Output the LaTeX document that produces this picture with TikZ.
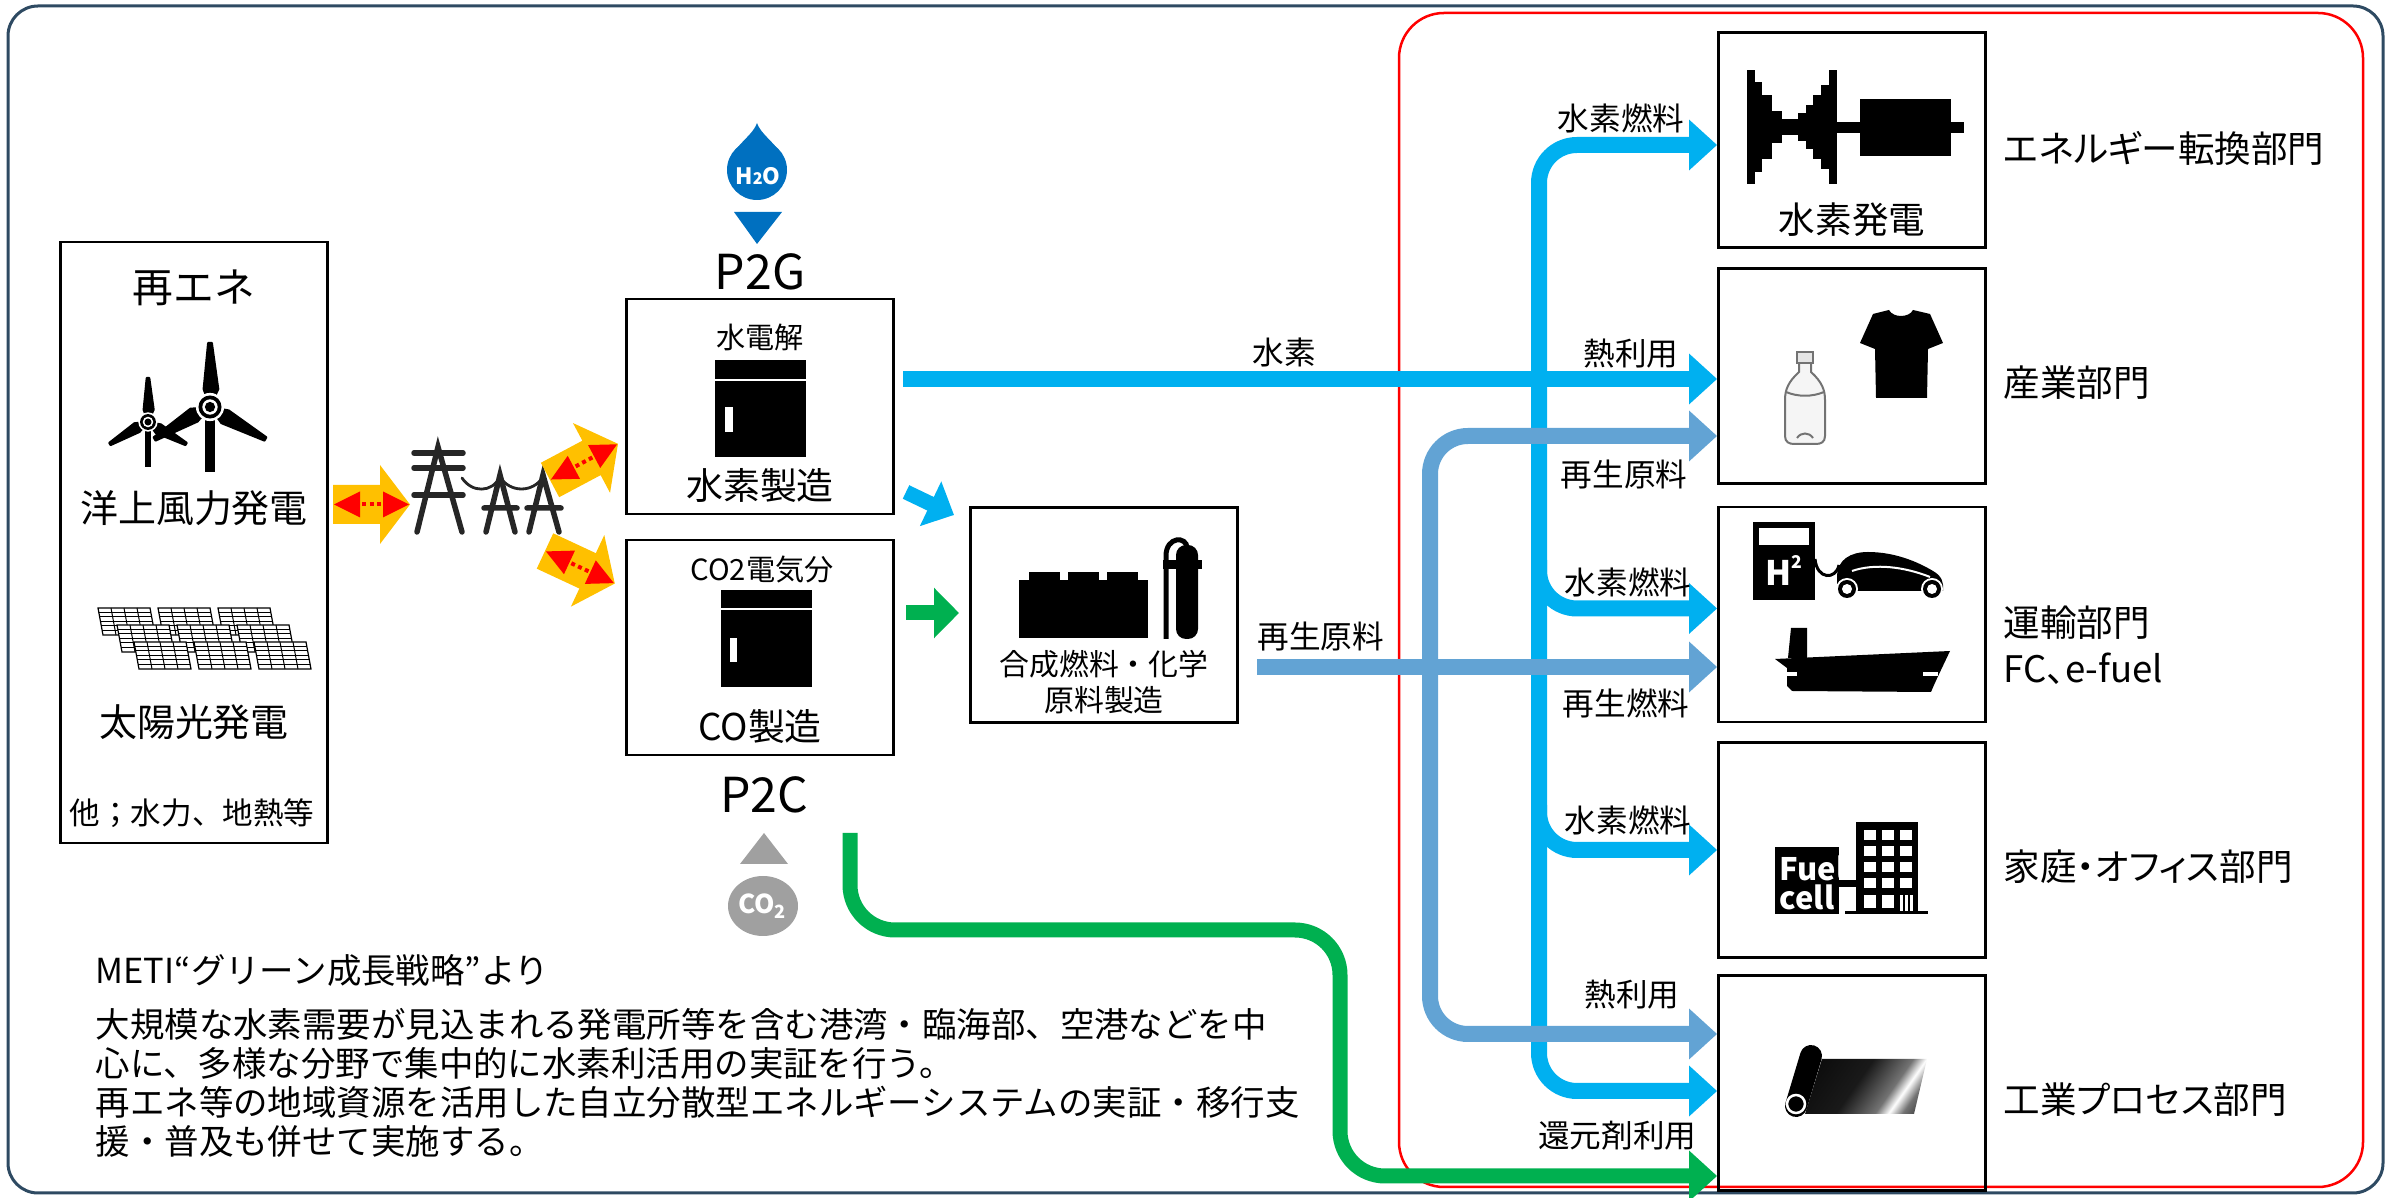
\documentclass[tikz,border=0pt]{standalone}
\usepackage{fontspec}
\setmainfont{Noto Sans CJK JP}
\newfontfamily\uifont{Noto Sans CJK JP}[RawFeature=+palt]
\usetikzlibrary{arrows.meta}

\definecolor{hcyan}{HTML}{00B0F0}
\definecolor{rblue}{HTML}{62A3D4}
\definecolor{cgreen}{HTML}{00B050}
\definecolor{wblue}{HTML}{0070C0}
\definecolor{eyellow}{HTML}{FFC000}
\definecolor{cgray}{HTML}{A0A0A0}
\definecolor{frameblue}{HTML}{2E4A62}
\definecolor{pylon}{HTML}{262626}

\newcommand{\jfs}[1]{\fontsize{#1}{#1}\selectfont}

\pgfdeclarehorizontalshading{sheetshade}{100bp}{color(0bp)=(black); color(45bp)=(black!90); color(62bp)=(black!55); color(68bp)=(white); color(74bp)=(black!55); color(86bp)=(black!90); color(100bp)=(black)}

% wind turbine: hub x, hub y, blade length, mast length
\newcommand{\turbine}[4]{%
  \begin{scope}[shift={(#1,#2)}]
    \fill (-0.075*#3,0) rectangle (0.075*#3,#4);
    \foreach \a in {90,210,330}
      \filldraw[rotate=\a, line join=round, line width=0.2mm] (0,0) -- (0.28*#3,0.13*#3) -- (#3,0.03*#3) -- (#3,-0.03*#3) -- (0.28*#3,-0.1*#3) -- cycle;
    \fill[white] (0,0) circle[radius=0.22*#3];
    \fill (0,0) circle[radius=0.18*#3];
    \fill[white] (0,0) circle[radius=0.12*#3];
    \fill (0,0) circle[radius=0.08*#3];
  \end{scope}}

% yellow two-way link arrow: tail x, tail y, angle
\newcommand{\linkarrow}[3]{%
  \begin{scope}[shift={(#1,#2)}, rotate=#3]
    \fill[eyellow] (0,-19.5) -- (47,-19.5) -- (47,-39.5) -- (77,0) -- (47,39.5) -- (47,19.5) -- (0,19.5) -- cycle;
    \fill[red] (1,0) -- (27,-13) -- (27,13) -- cycle (76,0) -- (50,-13) -- (50,13) -- cycle;
    \draw[red, line width=0.4mm, dash pattern=on 0.4mm off 0.35mm] (29,0) -- (49,0);
  \end{scope}}

\tikzset{
  pbox/.style={draw, line width=0.28mm, minimum width=26.7mm, minimum height=21.5mm, inner sep=0pt},
  flowlbl/.style={font=\jfs{9}, inner sep=0pt},
  seclbl/.style={anchor=west, font=\uifont\jfs{10.4}, inner sep=0pt},
  hflow/.style={hcyan, line width=1.6mm, rounded corners=3.8mm},
  rflow/.style={rblue, line width=1.6mm, rounded corners=3.8mm},
  gflow/.style={cgreen, line width=1.5mm, rounded corners=4.5mm},
}

\begin{document}
\begin{tikzpicture}[x=0.1mm, y=-0.1mm, >={Triangle[length=2.8mm,width=4.9mm]}]
\useasboundingbox (0,0) rectangle (2399,1198);

% frames
\draw[frameblue, line width=0.3mm, rounded corners=3mm] (8,6) rectangle (2383,1193);
\draw[red, line width=0.25mm, rounded corners=4.5mm] (1399,13) rectangle (2363,1187);

% renewables
\node[pbox, minimum height=60.1mm] (ren) at (194,542.5) {};
\node[font=\jfs{11.6}] (rentitle) at (194,288) {再エネ};
\turbine{148}{422}{44}{45}
\turbine{210}{407}{64}{65}
\node[font=\jfs{10.8}] (wind) at (194,508) {洋上風力発電};
\foreach \r/\dx in {0/0,1/19,2/36}
  \foreach \c in {0,1,2} {
    \begin{scope}[shift={(98+\dx+60*\c,608+17*\r)}]
      \filldraw[fill=white, line width=0.12mm] (0,0) -- (52,0) -- (57,27) -- (5,27) -- cycle;
      \foreach \i in {1,2,3} \draw[line width=0.1mm] (13*\i,0) -- (13*\i+5,27);
      \foreach \j in {1,...,5} \draw[line width=0.1mm] (0.83*\j,4.5*\j) -- (52+0.83*\j,4.5*\j);
    \end{scope}
  }
\node[font=\jfs{10.8}] (solar) at (194,722) {太陽光発電};
\node[font=\jfs{8.7}] (other) at (192,813) {他；水力、地熱等};

% grid
\linkarrow{333}{504.5}{0}
\begin{scope}[color=pylon, line width=0.55mm, line cap=round]
  \draw (417,532) -- (438,447) -- (462,532);
  \foreach \y in {453,468,495} \draw (414,\y) -- (463,\y);
  \draw (486,532) -- (500,475) -- (515,532) (484,508) -- (517,508);
  \draw (529,532) -- (543,475) -- (559,532) (527,508) -- (561,508);
  \draw[line width=0.28mm] (462,478) .. controls (472,493) and (492,493) .. (500,477) .. controls (510,493) and (533,493) .. (543,477);
\end{scope}
\linkarrow{550}{480}{28}
\linkarrow{545}{551}{-25}

% water in, P2G
\fill[wblue] (757,123) .. controls (752,138) and (728,148) .. (727,172) -- (787,172) .. controls (786,148) and (762,138) .. (757,123) -- cycle;
\fill[wblue] (757,170) circle[radius=30];
\node[text=white, font=\bfseries\jfs{6.4}] (h2o) at (758,176) {H{\jfs{4.6}2}O};
\fill[wblue] (734,212) -- (782,212) -- (757,244) -- cycle;
\node[anchor=base, font=\jfs{13.7}] (p2glbl) at (760,290) {P2G};

\node[pbox] (p2g) at (760,406.5) {};
\node[font=\jfs{8.3}] (elec) at (760,337) {水電解};
\fill (715,360) rectangle (806,457);
\draw[white, line width=0.2mm] (715,380) -- (806,380);
\fill[white] (725,407) rectangle (733,432);
\node[font=\jfs{10.5}] (hprod) at (760,486) {水素製造};

\node[pbox] (co) at (760,647.5) {};
\node[font=\jfs{8.3}] (coelec) at (762,570) {CO2電気分};
\fill (721,590) rectangle (812,687);
\draw[white, line width=0.2mm] (721,609) -- (812,609);
\fill[white] (730,638) rectangle (737,662);
\node[font=\jfs{10.5}] (coprod) at (760,727) {CO製造};

% CO2 in, P2C
\node[anchor=base, font=\jfs{13.7}] (p2clbl) at (764,813) {P2C};
\fill[cgray] (740,864) -- (788,864) -- (764,833) -- cycle;
\fill[cgray] (763,906) ellipse[x radius=35, y radius=30];
\node[text=white, font=\bfseries\jfs{7.4}] (co2) at (763,906) {CO\textsubscript{2}};

% synthesis
\coordinate (hs) at (906,492);
\coordinate (he) at (954,515);
\draw[hcyan, line width=1.5mm, -{Triangle[length=2.6mm,width=4.8mm]}] (hs) -- (he);
\coordinate (gs) at (906,613);
\coordinate (ge) at (959,613);
\draw[cgreen, line width=1.5mm, -{Triangle[length=2.5mm,width=4.9mm]}] (gs) -- (ge);
\node[pbox] (syn) at (1104,615) {};
\fill (1019,580) rectangle (1148,638);
\foreach \x in {1029,1068,1107} \fill (\x,572) rectangle ++(31,9);
\fill[rounded corners=1mm] (1176,545) rectangle (1198,639);
\draw[line width=0.5mm] (1166,639) -- (1166,556) .. controls (1166,536) and (1187,536) .. (1187,548);
\fill (1163,560) rectangle (1202,569);
\node[font=\fontsize{8.5}{10.2}\selectfont, align=center] (synlbl) at (1104,682) {合成燃料・化学\\原料製造};

% sectors
\node[pbox] (ene) at (1852,140) {};
\node[pbox] (ind) at (1852,376) {};
\node[pbox] (tra) at (1852,614.5) {};
\node[pbox] (hom) at (1852,850) {};
\node[pbox] (pro) at (1852,1083) {};

% turbine and generator
\foreach \xa/\xb/\h in {1747/1755/57, 1755/1762/45, 1762/1772/32, 1772/1782/16, 1782/1798/8, 1798/1806/14, 1806/1813/22, 1813/1821/32, 1821/1829/42, 1829/1837/57}
  \fill (\xa,127-\h) rectangle (\xb,127+\h);
\fill (1837,122) rectangle (1964,133);
\fill (1860,99) rectangle (1951,156);
\node[font=\jfs{10.4}] (hpower) at (1852,220) {水素発電};

% bottle and shirt
\filldraw[fill=black!4, draw=black!55, line width=0.2mm] (1799,362) -- (1799,372) .. controls (1788,382) and (1785,390) .. (1785,400) -- (1785,436) .. controls (1785,442) and (1789,444) .. (1794,444) -- (1816,444) .. controls (1821,444) and (1825,442) .. (1825,436) -- (1825,400) .. controls (1825,390) and (1822,382) .. (1811,372) -- (1811,362) -- cycle;
\filldraw[fill=black!10, draw=black!55, line width=0.2mm] (1797,352) rectangle (1813,363);
\draw[black!55, line width=0.2mm] (1786,392) .. controls (1798,397) and (1812,397) .. (1824,392);
\draw[black!55, line width=0.2mm] (1797,438) .. controls (1801,432) and (1809,432) .. (1813,438);
\fill (1889,310) .. controls (1893,318) and (1909,318) .. (1913,310) -- (1930,314) -- (1943,343) -- (1928,349) -- (1927,398) -- (1876,398) -- (1875,349) -- (1860,343) -- (1873,314) -- cycle;

% pump, car, ship
\fill (1753,522) rectangle (1815,600);
\fill[white] (1759,528) rectangle (1809,545);
\node[text=white, font=\bfseries\jfs{9.6}, anchor=base west, inner sep=0pt] (hpump) at (1765,586) {H};
\node[text=white, font=\bfseries\jfs{5}, anchor=base west, inner sep=0pt] (hsup) at (1791,569) {2};
\draw[line width=0.3mm] (1815,559) .. controls (1817,580) and (1836,580) .. (1839,565);
\fill (1837,591) -- (1837,575) .. controls (1838,560) and (1850,552) .. (1868,552) .. controls (1895,552) and (1918,562) .. (1933,571) .. controls (1942,576) and (1944,583) .. (1943,591) -- cycle;
\draw[white, line width=0.2mm] (1852,571) .. controls (1875,563) and (1905,567) .. (1930,577);
\foreach \x in {1847,1932} {
  \fill[white] (\x,589) circle[radius=11];
  \fill (\x,589) circle[radius=9];
  \fill[white] (\x,589) circle[radius=5];
}
\fill (1775,659) -- (1950,651) .. controls (1942,668) and (1936,680) .. (1931,692) -- (1792,691) -- (1787,686) -- (1787,668) -- cycle;
\fill (1788,658) -- (1791,628) -- (1807,628) -- (1807,658) -- cycle;
\fill[white] (1787,672) rectangle (1797,676);
\fill[white] (1923,672) rectangle (1938,676);

% fuel cell and office
\fill (1775,847) rectangle (1839,914);
\node[text=white, font=\bfseries\jfs{8.8}, anchor=base west, inner sep=0pt] (fuel) at (1779,881) {Fuel};
\node[text=white, font=\bfseries\jfs{8.8}, anchor=base west, inner sep=0pt] (cellt) at (1779,910) {cell};
\fill (1839,880) rectangle (1856,887);
\fill (1856,822) rectangle (1918,914);
\foreach \x in {1864,1882,1900}
  \foreach \y in {830,846,862,878} \fill[white] (\x,\y) rectangle ++(12,10);
\foreach \x in {1864,1882} \fill[white] (\x,895) rectangle ++(12,13);
\foreach \x in {1900,1905,1910} \fill[white] (\x,895) rectangle ++(3,16);
\fill (1845,911) rectangle (1928,914);

% rolled sheet
\shade[shading=sheetshade, shading angle=-35] (1822,1059) -- (1927,1059) -- (1914,1114) -- (1805,1114) -- cycle;
\draw[line width=2.2mm, line cap=round] (1811,1056) -- (1796,1106);
\filldraw[draw=white, line width=0.25mm, fill=black] (1796,1104) circle[radius=9];

% sector names
\node[seclbl] (enelbl) at (2003,148) {エネルギー転換部門};
\node[seclbl] (indlbl) at (2003,383) {産業部門};
\node[seclbl, align=left, font=\uifont\fontsize{10.4}{13}\selectfont] (tralbl) at (2003,645) {運輸部門\\FC、e-fuel};
\node[seclbl] (homlbl) at (2003,867) {家庭・オフィス部門};
\node[seclbl] (prolbl) at (2003,1100) {工業プロセス部門};

% hydrogen flows
\coordinate (cbot) at (1539,1091);
\draw[hflow, <->] ([yshift=-0.5mm]ene.west) -| (cbot) -- (cbot -| pro.west);
\coordinate (hsrc) at (903,379);
\draw[hflow, ->] (hsrc) -- (hsrc -| ind.west);
\coordinate (cb3) at (1539,560);
\draw[hflow, ->] (cb3) |- ([yshift=0.6mm]tra.west);
\coordinate (cb4) at (1539,805);
\draw[hflow, ->] (cb4) |- (hom.west);

% recycled feedstock flows
\coordinate (rtop) at (1430,436);
\coordinate (rbot) at (1430,1034);
\draw[rflow, <->] (rtop -| ind.west) -- (rtop) -- (rbot) -- (rbot -| pro.west);
\coordinate (rsrc) at (1257,667);
\draw[rflow, ->] (rsrc) -- (rsrc -| tra.west);

% CO flow
\coordinate (gsrc) at (850,833);
\coordinate (gturn) at (1340,930);
\coordinate (gend) at (1340,1176);
\draw[gflow, ->] (gsrc) |- (gturn) -- (gend) -- (gend -| pro.west);

% flow labels
\node[flowlbl, anchor=south] (hlbl) at (1284,368) {水素};
\node[flowlbl, anchor=south west] (rlbl) at (1257,652) {再生原料};
\node[flowlbl, anchor=south east] (f1) at (1685,134) {水素燃料};
\node[flowlbl, anchor=south east] (f2) at (1679,369) {熱利用};
\node[flowlbl, anchor=north east] (f3) at (1688,459) {再生原料};
\node[flowlbl, anchor=south east] (f4) at (1692,598) {水素燃料};
\node[flowlbl, anchor=north east] (f5) at (1690,688) {再生燃料};
\node[flowlbl, anchor=south east] (f6) at (1692,836) {水素燃料};
\node[flowlbl, anchor=south east] (f7) at (1680,1010) {熱利用};
\node[flowlbl, anchor=south east] (f8) at (1697,1151) {還元剤利用};

% notes
\node[anchor=west, font=\jfs{9.8}, inner sep=0pt] (meti) at (95,970) {METI“グリーン成長戦略”より};
\node[anchor=north west, align=left, font=\fontsize{9.8}{11.1}\selectfont, inner sep=0pt] (note) at (95,1008) {大規模な水素需要が見込まれる発電所等を含む港湾・臨海部、空港などを中\\心に、多様な分野で集中的に水素利活用の実証を行う。\\再エネ等の地域資源を活用した自立分散型エネルギーシステムの実証・移行支\\援・普及も併せて実施する。};
\end{tikzpicture}
\end{document}
